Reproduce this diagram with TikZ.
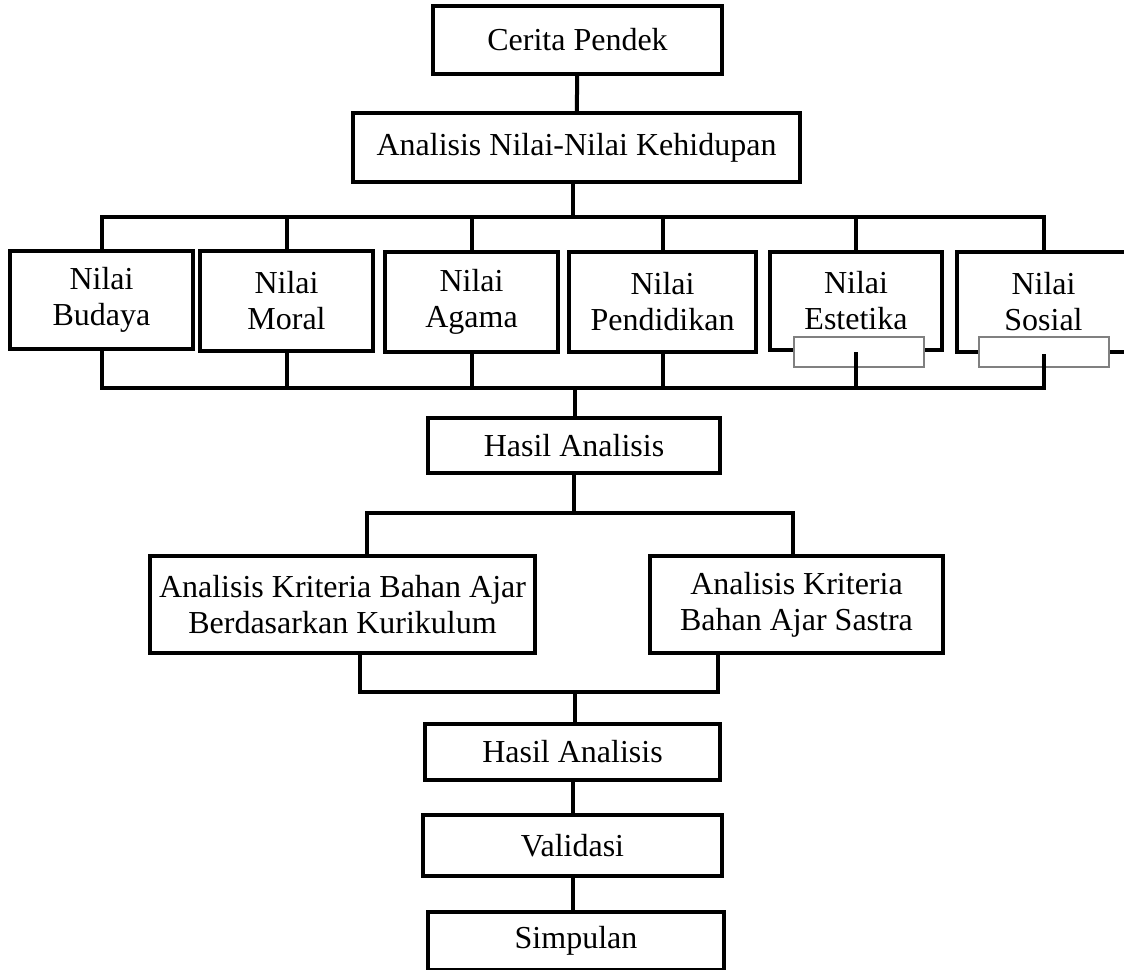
\documentclass[tikz,border=0pt]{standalone}
\usepackage{fontspec}
\setmainfont{Liberation Serif}

\begin{document}
\begin{tikzpicture}[x=0.5pt,y=-0.5pt,
        box/.style={draw,line width=2pt,fill=white,align=center,inner sep=0pt,
                    font=\fontsize{16}{18}\selectfont},
        tab/.style={draw=gray,line width=0.6pt,fill=white,inner sep=0pt},
        line/.style={line width=2pt}]

            % \draw [help lines,step=50] (0,0) grid (1124,969);
            \useasboundingbox (0,0) rectangle (1124,969);
            \clip (0,0) rectangle (1124,969);

            \path   (577.5,40)   node (a) [box,minimum width=144.5pt,minimum height=34pt] {Cerita Pendek}
                    (576.5,147.5) node (b) [box,minimum width=223.5pt,minimum height=34.5pt] {Analisis Nilai-Nilai Kehidupan}
                    (101.5,300)  node (c) [box,minimum width=91.5pt,minimum height=49pt] {Nilai\\Budaya}
                    (286.5,301)  node (d) [box,minimum width=86.5pt,minimum height=50pt] {Nilai\\Moral}
                    (471.5,302)  node (e) [box,minimum width=86.5pt,minimum height=50pt] {Nilai\\Agama}
                    (662.5,302)  node (f) [box,minimum width=93.5pt,minimum height=50pt] {Nilai\\Pendidikan}
                    (856,301)    node (g) [box,minimum width=86pt,minimum height=49pt] {Nilai\\Estetika}
                    (1043.5,302) node (h) [box,minimum width=86.5pt,minimum height=50pt] {Nilai\\Sosial}
                    (859,352)    node (g1) [tab,minimum width=65pt,minimum height=15pt] {}
                    (1044,352)   node (h1) [tab,minimum width=65pt,minimum height=15pt] {}
                    (574,445.5)  node (i) [box,minimum width=146pt,minimum height=27.5pt] {Hasil Analisis}
                    (342.5,604.5) node (j) [box,minimum width=192.5pt,minimum height=48.5pt] {Analisis Kriteria Bahan Ajar\\Berdasarkan Kurikulum}
                    (796.5,604.5) node (k) [box,minimum width=146.5pt,minimum height=48.5pt] {Analisis Kriteria\\Bahan Ajar Sastra}
                    (572.5,752)  node (l) [box,minimum width=147.5pt,minimum height=28pt] {Hasil Analisis}
                    (572.5,845.5) node (m) [box,minimum width=149.5pt,minimum height=30.5pt] {Validasi}
                    (576,941)    node (n) [box,minimum width=148pt,minimum height=29pt] {Simpulan};

            % buses
            \coordinate (t) at (573,217);
            \coordinate (u) at (575,388);
            \coordinate (v1) at (367,513);
            \coordinate (v2) at (793,513);
            \coordinate (w) at (575,692);
            \coordinate (w1) at (360,692);
            \coordinate (w2) at (718,692);

            \draw[line] (node cs: name =a) -- (node cs: name =b);
            \draw[line] (b.south -| t) -- (t);
            \draw[line] (c.north) -- (c.north |- t) -- (h.north |- t) -- (h.north);
            \foreach \n in {d,e,f,g}
                \draw[line] (\n.north) -- (\n.north |- t);

            \draw[line] (c.south) -- (c.south |- u) -- (h.south |- u) -- (h.south);
            \foreach \n in {d,e,f,g}
                \draw[line] (\n.south) -- (\n.south |- u);
            \draw[line] (u) -- (u |- i.north);

            \draw[line] (i.south) -- (i.south |- v1);
            \draw[line] (j.north -| v1) -- (v1) -- (v2) -- (k.north -| v2);

            \draw[line] (j.south -| w1) -- (w1) -- (w2) -- (k.south -| w2);
            \draw[line] (w) -- (w |- l.north);
            \draw[line] (node cs: name =l) -- (node cs: name =m);
            \draw[line] (m.south) -- (m.south |- n.north);

\end{tikzpicture}
\end{document}
